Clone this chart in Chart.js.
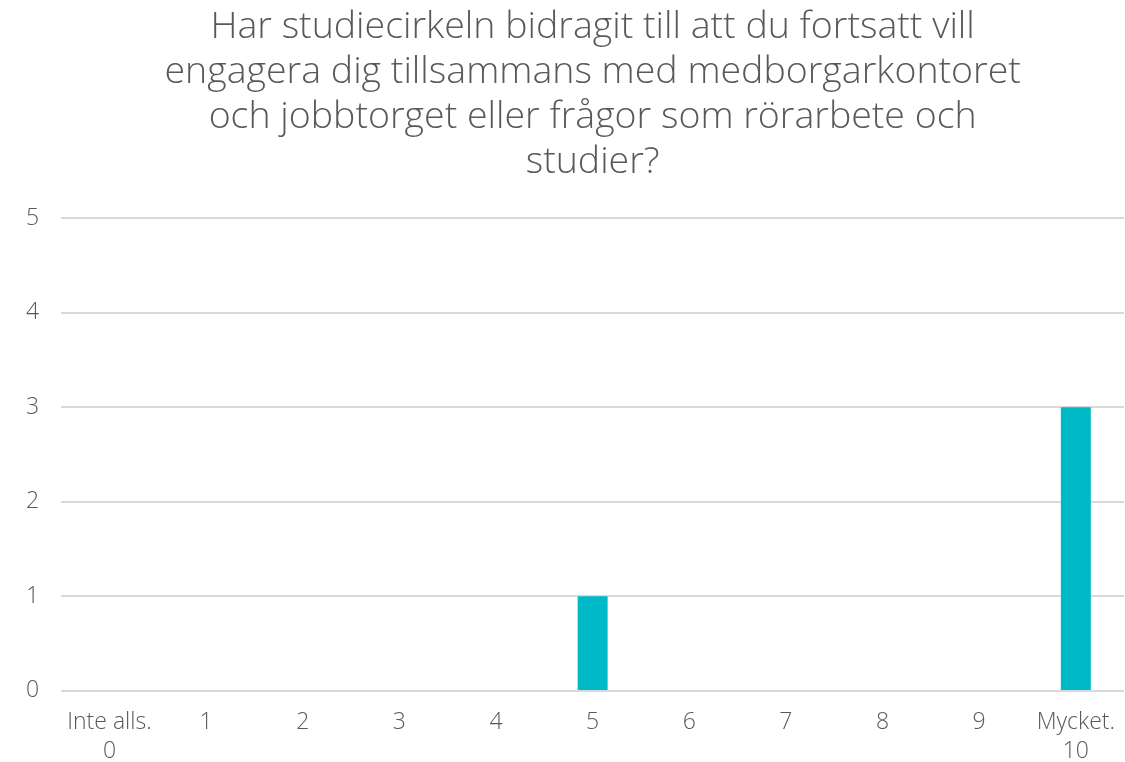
<!DOCTYPE html>
<html>
<head>
<meta charset="utf-8">
<script src="https://cdn.jsdelivr.net/npm/chart.js@4"></script>
<style>
  html, body { margin: 0; padding: 0; background: #fff; }
  #wrap { width: 1125px; height: 762px; }
</style>
</head>
<body>
<div id="wrap"><canvas id="svarChart"></canvas></div>
<script>
const titleLines = [
  "Har studiecirkeln bidragit till att du fortsatt vill",
  "engagera dig tillsammans med medborgarkontoret",
  "och jobbtorget eller frågor som rörarbete och",
  "studier?"
];
const categories = [["Inte alls.", "0"], "1", "2", "3", "4", "5", "6", "7", "8", "9", ["Mycket.", "10"]];
const counts = [0, 0, 0, 0, 0, 1, 0, 0, 0, 0, 3];
const yTicks = [0, 1, 2, 3, 4, 5];

const textColor = "#595959";
const fontFamily = "'Open Sans', 'Noto Sans', sans-serif";

const ctx = document.getElementById("svarChart").getContext("2d");
new Chart(ctx, {
  type: "bar",
  data: {
    labels: categories,
    datasets: [{
      data: counts,
      backgroundColor: "#00B9C6",
      categoryPercentage: 1,
      barPercentage: 0.31
    }]
  },
  options: {
    responsive: true,
    maintainAspectRatio: false,
    animation: false,
    layout: { padding: { left: 4, right: 0, top: 0, bottom: -13 } },
    plugins: {
      legend: { display: false },
      tooltip: { enabled: false },
      title: {
        display: true,
        fullSize: false,
        text: titleLines,
        color: textColor,
        font: { family: fontFamily, size: 37.5, weight: 300, lineHeight: 1.195 },
        padding: { top: 5, bottom: 34 }
      }
    },
    scales: {
      x: {
        grid: { display: false },
        border: { display: false },
        ticks: {
          color: textColor,
          font: { family: fontFamily, size: 23, weight: 300, lineHeight: 1.22 },
          padding: 10,
          maxRotation: 0,
          autoSkip: false
        }
      },
      y: {
        min: 0,
        max: 5,
        afterBuildTicks: axis => { axis.ticks = yTicks.map(v => ({ value: v })); },
        grid: { color: "#D9D9D9", lineWidth: 2, drawTicks: false },
        border: { display: false },
        ticks: {
          color: textColor,
          font: { family: fontFamily, size: 23, weight: 300 },
          padding: 22
        }
      }
    }
  }
});
</script>
</body>
</html>
